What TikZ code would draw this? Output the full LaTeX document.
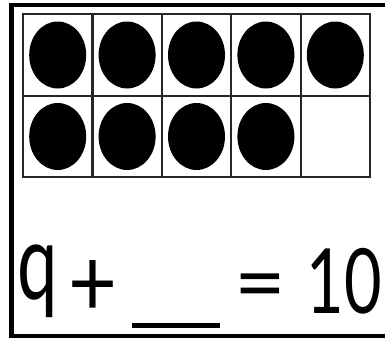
\documentclass[tikz,border=0pt]{standalone}
\usepackage{fontspec}
\setmainfont{Lato}
\usetikzlibrary{shapes.geometric}
\tikzset{
  frame/.style={line width=4.5pt, black},
  cell/.style={rectangle, draw=black!85, line width=2.2pt, minimum width=69.4pt, minimum height=81.5pt, inner sep=0pt},
  counter/.style={ellipse, fill=black, minimum width=57pt, minimum height=67pt, inner sep=0pt},
  sym/.style={inner sep=0pt, anchor=base},
  blank/.style={fill=black, minimum width=88pt, minimum height=5pt, inner sep=0pt}
}

\begin{document}
\begin{tikzpicture}[x=1pt,y=-1pt]
  \useasboundingbox (0,0) rectangle (385,340);
  \clip (0,0) rectangle (385,340);
  \draw[frame] (400,5) -- (11.5,5) -- (11.5,336) -- (400,336);
  % ten frame, two rows of five
  \foreach \i in {1,...,5} {
    \node[cell] (top\i) at ({23+69.4*(\i-0.5)},55) {};
    \node[cell] (bot\i) at ({23+69.4*(\i-0.5)},136.5) {};
  }
  \foreach \i in {1,...,5} \node[counter] (topdot\i) at (top\i) {};
  \foreach \i in {1,...,4} \node[counter] (botdot\i) at (bot\i) {};
  % number sentence
  \node[sym, font=\fontsize{106}{106}\selectfont, xscale=0.68] (addend) at (37.5,299) {q};
  \node[sym, font=\fontsize{96}{96}\selectfont, xscale=0.88] (plus) at (93,316) {+};
  \node[sym, font=\fontsize{85}{85}\selectfont, xscale=1.05] (equals) at (260,312) {=};
  \node[blank] (gap) at (176,325) {};
  \node[sym, font=\fontsize{90}{90}\selectfont, xscale=0.72] (sum) at (344,313) {10};
\end{tikzpicture}
\end{document}
